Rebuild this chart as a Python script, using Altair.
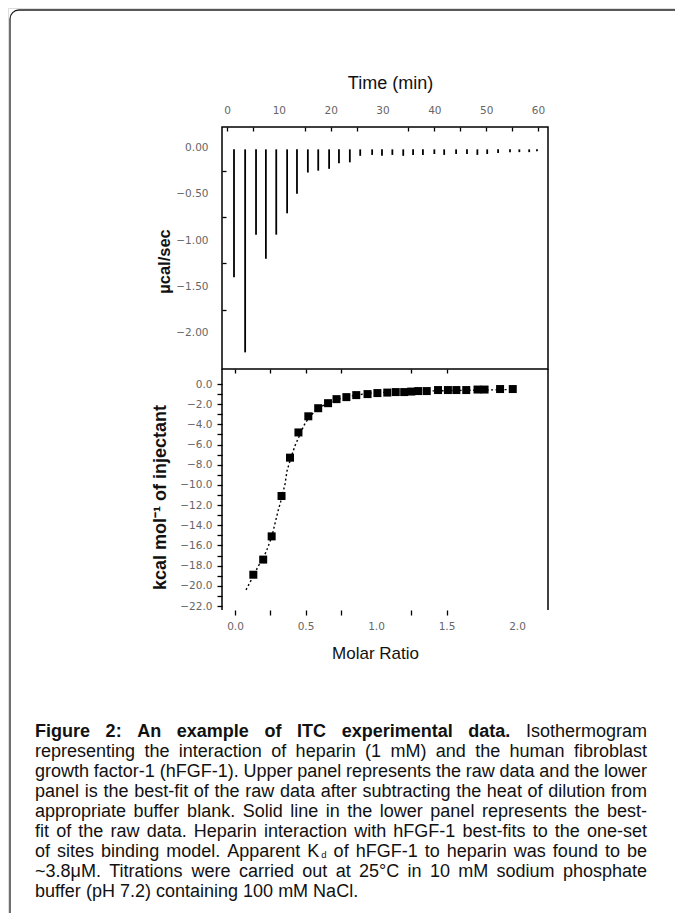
import altair as alt
import pandas as pd

# ---------------- data ----------------
# upper panel: raw thermogram, injection times (min) and peak depth (ucal/sec)
inj_time = [1.35, 3.5, 5.6, 7.5, 9.5, 11.6, 13.5, 15.6, 17.6, 19.7, 21.6, 23.7, 25.7, 28.0, 29.9,
            31.9, 34.0, 35.9, 37.8, 40.0, 41.9, 44.2, 46.3, 48.3, 50.2, 52.3, 54.6, 56.4, 58.3, 59.8]
inj_peak = [-1.40, -2.21, -0.94, -1.20, -0.94, -0.71, -0.50, -0.27, -0.25, -0.23, -0.17, -0.16, -0.09, -0.08, -0.09,
            -0.08, -0.09, -0.08, -0.08, -0.07, -0.08, -0.07, -0.07, -0.08, -0.07, -0.06, -0.05, -0.05, -0.05, -0.04]
baseline = -0.02

# lower panel: integrated heats
molar_ratio = [0.13, 0.20, 0.26, 0.33, 0.39, 0.45, 0.52, 0.59, 0.66, 0.72, 0.79, 0.86, 0.94, 1.01,
               1.08, 1.14, 1.20, 1.25, 1.30, 1.36, 1.44, 1.51, 1.57, 1.64, 1.72, 1.77, 1.88, 1.97]
heat = [-18.9, -17.4, -15.1, -11.1, -7.3, -4.8, -3.2, -2.4, -1.9, -1.5, -1.3, -1.1, -1.0, -0.9,
        -0.85, -0.8, -0.8, -0.75, -0.7, -0.7, -0.6, -0.6, -0.6, -0.6, -0.55, -0.55, -0.5, -0.5]
# best-fit curve
fit_ratio = [0.078, 0.128, 0.163, 0.199, 0.227, 0.262, 0.284, 0.305, 0.333, 0.355, 0.369, 0.397,
             0.426, 0.461, 0.489, 0.525, 0.589, 0.660, 0.730, 0.816, 0.957, 1.170, 1.525, 1.965]
fit_heat = [-20.4, -19.1, -18.1, -17.3, -16.4, -15.1, -13.8, -12.6, -11.2, -9.9, -8.6, -7.3,
            -6.1, -5.0, -4.1, -3.3, -2.4, -1.9, -1.5, -1.2, -0.9, -0.75, -0.65, -0.55]

time_ticks = [0, 5, 10, 15, 20, 25, 30, 35, 40, 45, 50, 55, 60]
ucal_ticks = [0, -0.25, -0.5, -0.75, -1.0, -1.25, -1.5, -1.75, -2.0]
kcal_ticks = [0, -1, -2, -3, -4, -5, -6, -7, -8, -9, -10, -11, -12, -13, -14, -15, -16, -17,
              -18, -19, -20, -21, -22]
ratio_ticks = [0, 0.25, 0.5, 0.75, 1.0, 1.25, 1.5, 2.0]
ratio_top_ticks = [0, 0.25, 0.5, 0.75, 1.25, 1.5]

# caption lines (as broken in the figure); "K_d" carries a subscript d
caption_bold = "Figure 2: An example of ITC experimental data."
caption_lines = [
    "Isothermogram",
    "representing the interaction of heparin (1 mM) and the human fibroblast",
    "growth factor-1 (hFGF-1). Upper panel represents the raw data and the lower",
    "panel is the best-fit of the raw data after subtracting the heat of dilution from",
    "appropriate buffer blank. Solid line in the lower panel represents the best-",
    "fit of the raw data. Heparin interaction with hFGF-1 best-fits to the one-set",
    "of sites binding model. Apparent K_d of hFGF-1 to heparin was found to be",
    "~3.8\u03bcM. Titrations were carried out at 25\u00b0C in 10 mM sodium phosphate",
    "buffer (pH 7.2) containing 100 mM NaCl.",
]

# ---------------- layout (page pixels) ----------------
W, H = 667, 905


def px(v):
    return v - 8


FR_L, FR_R = 222, 548
TOP_T, MID, BOT_B = 127, 369, 610
CAP_L, CAP_R = 35, 647
CAP_Y0, CAP_DY = 732, 20
CAP_SIZE = 18
SUB_SIZE = 9.5
SUB_GAP = 2

LBL_FONT = "DejaVu Sans"
LBL_SIZE = 10.5
LBL_COLOR = "#666666"
TTL_FONT = "Liberation Sans, Arial, sans-serif"
CAP_FONT = "Liberation Sans, Arial, sans-serif"

# Arial / Liberation Sans advance widths (per 1000 em), used to justify the caption
_REG = {" ": 278, "(": 333, ")": 333, ",": 278, "-": 333, ".": 278, ":": 278, "~": 584, "\u00b0": 400,
        "\u03bc": 576, "A": 667, "C": 722, "F": 611, "G": 778, "H": 722, "I": 278, "K": 667, "M": 833,
        "N": 722, "S": 667, "T": 611, "U": 722,
        "a": 556, "b": 556, "c": 500, "d": 556, "e": 556, "f": 278, "g": 556, "h": 556, "i": 222,
        "j": 222, "k": 500, "l": 222, "m": 833, "n": 556, "o": 556, "p": 556, "q": 556, "r": 333,
        "s": 500, "t": 278, "u": 556, "v": 500, "w": 722, "x": 500, "y": 500, "z": 500}
_BOLD = {" ": 278, ":": 333, ".": 278, "A": 722, "C": 722, "F": 611, "I": 278, "T": 611,
         "a": 556, "d": 611, "e": 556, "f": 333, "g": 611, "i": 278, "l": 278, "m": 889, "n": 611,
         "o": 611, "p": 611, "r": 389, "s": 556, "t": 333, "u": 611, "x": 556}


def text_w(s, bold=False, size=CAP_SIZE):
    tab = _BOLD if bold else _REG
    return sum(tab.get(c, 556) for c in s) * size / 1000.0


words_reg, words_bold, words_sub = [], [], []
for i, line in enumerate(caption_lines):
    row = i + 1
    items = []  # (text, bold)
    if i == 0:
        items += [(w, True) for w in caption_bold.split(" ")]
    items += [(w, False) for w in line.split(" ")]
    widths = []
    for t, b in items:
        if "_" in t:
            main, sub = t.split("_")
            widths.append(text_w(main, b) + SUB_GAP + text_w(sub, b, SUB_SIZE))
        else:
            widths.append(text_w(t, b))
    last = i == len(caption_lines) - 1
    if last:
        gap = text_w(" ")
    else:
        gap = (CAP_R - CAP_L - sum(widths)) / (len(items) - 1)
    x = CAP_L
    for (t, b), wdt in zip(items, widths):
        if "_" in t:
            main, sub = t.split("_")
            words_reg.append({"row": row, "x": px(x), "t": main})
            words_sub.append({"row": row, "x": px(x + text_w(main) + SUB_GAP), "t": sub})
        elif b:
            words_bold.append({"row": row, "x": px(x), "t": t})
        else:
            words_reg.append({"row": row, "x": px(x), "t": t})
        x += wdt + gap

one = pd.DataFrame({"k": [0]})

border = alt.Chart(one).mark_rect(
    cornerRadius=9, fillOpacity=0, stroke="#222222", strokeWidth=1.3
).encode(x=alt.value(px(10)), x2=alt.value(px(740)), y=alt.value(px(10)), y2=alt.value(px(980)))

top_frame = alt.Chart(one).mark_rect(
    fillOpacity=0, stroke="black", strokeWidth=1.5
).encode(x=alt.value(px(FR_L)), x2=alt.value(px(FR_R)), y=alt.value(px(TOP_T)), y2=alt.value(px(MID)))

bot_left = alt.Chart(one).mark_rule(color="black", strokeWidth=1.5).encode(
    x=alt.value(px(FR_L)), y=alt.value(px(MID)), y2=alt.value(px(BOT_B)))
bot_right = alt.Chart(one).mark_rule(color="black", strokeWidth=1.5).encode(
    x=alt.value(px(FR_R)), y=alt.value(px(MID)), y2=alt.value(px(BOT_B)))

# ---- upper panel ----
spk = pd.DataFrame({"time": inj_time, "peak": inj_peak, "base": [baseline] * len(inj_time)})
T_AX = px(TOP_T) + 4
L_AX = px(FR_L) + 4
spikes = alt.Chart(spk).mark_rule(color="black", strokeWidth=1.8).encode(
    x=alt.X("time:Q",
            scale=alt.Scale(domain=[0, 60], range=[px(227), px(538)], nice=False, zero=False),
            axis=alt.Axis(orient="top", offset=-T_AX, values=time_ticks, domain=False, grid=False,
                          tickSize=4, tickWidth=1.3, tickColor="black", zindex=1,
                          tickOpacity={"condition": {"test": "datum.value == 10 || datum.value == 30", "value": 0},
                                       "value": 1},
                          labelExpr="datum.value % 10 == 0 ? format(datum.value, 'd') : ''",
                          labelPadding=12, labelFont=LBL_FONT, labelFontSize=LBL_SIZE, labelColor=LBL_COLOR,
                          labelFlush=False, labelOverlap=False,
                          title="Time (min)", titleX=px(390), titleY=px(83) - T_AX, titleAngle=0,
                          titleAlign="center", titleBaseline="middle", titleFont=TTL_FONT,
                          titleFontSize=18, titleFontWeight="normal", titleColor="#111111")),
    y=alt.Y("base:Q",
            scale=alt.Scale(domain=[-2, 0], range=[px(332.9), px(147.5)], nice=False, zero=False),
            axis=alt.Axis(orient="left", offset=-L_AX, values=ucal_ticks, domain=False, grid=False,
                          tickSize=4, tickWidth=1.3, tickColor="black", zindex=1,
                          tickOpacity={"condition": {"test": "abs(datum.value * 2 - round(datum.value * 2)) < 0.01",
                                                     "value": 0}, "value": 1},
                          labelExpr="abs(datum.value * 2 - round(datum.value * 2)) < 0.01 ? format(datum.value, '.2f') : ''",
                          labelPadding=14, labelFont=LBL_FONT, labelFontSize=LBL_SIZE, labelColor=LBL_COLOR,
                          labelFlush=False, labelOverlap=False,
                          title="\u00b5cal/sec", titleX=px(164) - L_AX, titleY=px(261), titleAngle=270,
                          titleAlign="center", titleBaseline="middle", titleFont=TTL_FONT,
                          titleFontSize=16.5, titleFontWeight="bold", titleColor="#111111")),
    y2="peak:Q",
)

# ---- lower panel ----
pts = pd.DataFrame({"ratio": molar_ratio, "heat": heat})
fit = pd.DataFrame({"ratio": fit_ratio, "heat": fit_heat})
xs = alt.Scale(domain=[0, 2], range=[px(235), px(517)], nice=False, zero=False)
ys = alt.Scale(domain=[-22, 0], range=[px(606), px(384)], nice=False, zero=False)
B_AX = px(BOT_B) - H
BL_AX = px(FR_L)
points = alt.Chart(pts).mark_square(size=64, color="black", opacity=1).encode(
    x=alt.X("ratio:Q", scale=xs,
            axis=alt.Axis(orient="bottom", offset=B_AX, values=ratio_ticks, domain=False, grid=False,
                          tickSize=5, tickWidth=1.3, tickColor="black", zindex=1,
                          tickOpacity={"condition": {"test": "datum.value == 1 || datum.value == 2", "value": 0},
                                       "value": 1},
                          labelExpr="abs(datum.value * 2 - round(datum.value * 2)) < 0.01 ? format(datum.value, '.1f') : ''",
                          labelPadding=6, labelFont=LBL_FONT, labelFontSize=LBL_SIZE, labelColor=LBL_COLOR,
                          labelFlush=False, labelOverlap=False,
                          title="Molar Ratio", titleX=px(375), titleY=px(653) - px(BOT_B), titleAngle=0,
                          titleAlign="center", titleBaseline="middle", titleFont=TTL_FONT,
                          titleFontSize=17, titleFontWeight="normal", titleColor="#111111")),
    y=alt.Y("heat:Q", scale=ys,
            axis=alt.Axis(orient="left", offset=-BL_AX, values=kcal_ticks, domain=False, grid=False,
                          tickSize=5, tickWidth=1.3, tickColor="black", zindex=1,
                          labelExpr="datum.value % 2 == 0 ? format(datum.value, '.1f') : ''",
                          labelPadding=5, labelFont=LBL_FONT, labelFontSize=LBL_SIZE, labelColor=LBL_COLOR,
                          labelFlush=False, labelOverlap=False,
                          title="kcal mol\u207b\u00b9 of injectant", titleX=px(160) - BL_AX, titleY=px(497),
                          titleAngle=270, titleAlign="center", titleBaseline="middle", titleFont=TTL_FONT,
                          titleFontSize=18, titleFontWeight="bold", titleColor="#111111")),
)
M_AX = px(MID) + 4
fitline = alt.Chart(fit).mark_line(color="black", strokeWidth=1.4, strokeDash=[2, 2.5]).encode(
    x=alt.X("ratio:Q", scale=xs,
            axis=alt.Axis(orient="top", offset=-M_AX, values=ratio_top_ticks, domain=False, grid=False,
                          labels=False, tickSize=4, tickWidth=1.3, tickColor="black", zindex=1, title=None)),
    y=alt.Y("heat:Q", scale=ys, axis=None),
)

# ---- caption ----
cap_x = alt.X("x:Q", scale=alt.Scale(domain=[0, W], range=[0, W], nice=False, zero=False), axis=None)
cap_y = alt.Y("row:Q", scale=alt.Scale(domain=[1, 9], range=[px(CAP_Y0), px(CAP_Y0 + 8 * CAP_DY)],
                                       nice=False, zero=False), axis=None)
cap_reg = alt.Chart(pd.DataFrame(words_reg)).mark_text(
    align="left", baseline="middle", font=CAP_FONT, fontSize=CAP_SIZE, color="#111111"
).encode(x=cap_x, y=cap_y, text="t:N")
cap_bold = alt.Chart(pd.DataFrame(words_bold)).mark_text(
    align="left", baseline="middle", font=CAP_FONT, fontSize=CAP_SIZE, fontWeight="bold", color="#111111"
).encode(x=cap_x, y=cap_y, text="t:N")
cap_sub = alt.Chart(pd.DataFrame(words_sub)).mark_text(
    align="left", baseline="middle", font=CAP_FONT, fontSize=SUB_SIZE, dy=3, color="#111111"
).encode(x=cap_x, y=cap_y, text="t:N")

chart = alt.layer(
    border, top_frame, bot_left, bot_right, spikes, fitline, points,
    cap_reg, cap_bold, cap_sub,
).resolve_scale(x="independent", y="independent").properties(
    width=W, height=H, padding=0, autosize=alt.AutoSizeParams(type="none")
).configure_view(stroke=None).configure(background="white")

chart.save("out.html", embed_options={"renderer": "svg", "actions": False})
